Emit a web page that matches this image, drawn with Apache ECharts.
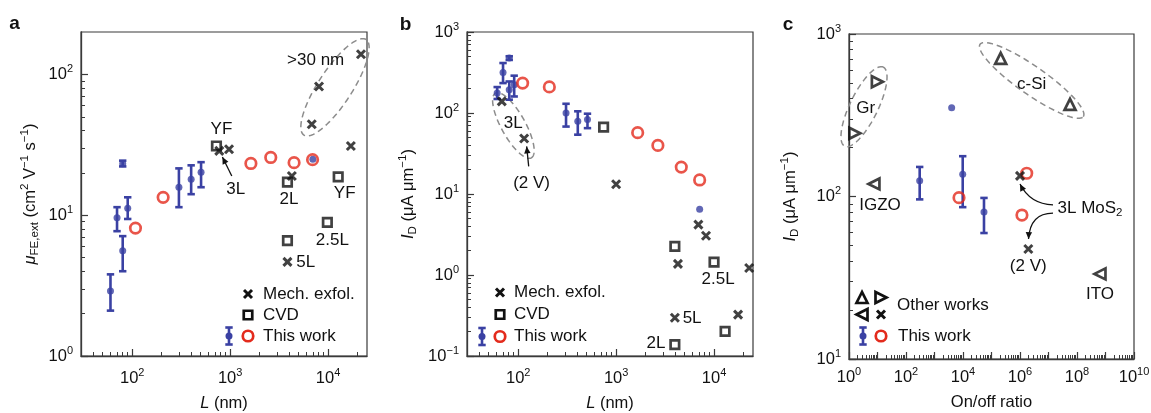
<!DOCTYPE html>
<html>
<head>
<meta charset="utf-8">
<title>MoS2 transistor benchmarks</title>
<script src="https://cdn.jsdelivr.net/npm/echarts@6.0.0/dist/echarts.min.js"></script>
<style>
  html, body { margin: 0; padding: 0; background: #fff; }
  #chart { width: 1151px; height: 413px; }
</style>
</head>
<body>
<div id="chart"></div>
<script>
const FONT = "'Liberation Sans', Arial, Helvetica, sans-serif";
const INK = '#111111';
const AXIS_COLOR = '#3a3a3a';
const BLUE = '#3a41a3';
const RED = '#e32b1d';
const DASH_GREY = '#8c8c8c';

// ---------- panel a: extrinsic field-effect mobility vs channel length ----------
const aThisWorkL  = [60, 70, 80, 80, 90, 300, 400, 505, 7000];
const aThisWorkMu = [2.9, 9.6, 5.6, 23.2, 11.2, 15.8, 18.0, 20.2, 25.0];
const aThisWorkLo = [2.1, 7.7, 4.0, 22.2, 9.4, 11.4, 14.1, 15.8, null];
const aThisWorkHi = [3.8, 11.4, 7.1, 24.4, 13.4, 21.5, 22.6, 23.8, null];
const aCircleL    = [108, 207, 1630, 2600, 4500, 6950];
const aCircleMu   = [8.1, 13.4, 23.3, 25.7, 23.6, 24.8];
const aExfolL     = [775, 975, 4270, 6820, 8090, 21700, 17100, 3850];
const aExfolMu    = [28.6, 29.4, 19.0, 44.2, 82, 139, 31.0, 4.66];
const aCvdL       = [725, 3850, 12700, 3850, 9840];
const aCvdMu      = [31.0, 17.2, 18.7, 6.6, 8.9];

// ---------- panel b: on-current vs channel length ----------
const bThisWorkL  = [61, 70, 81, 81, 91, 308, 406, 510, 7130];
const bThisWorkI  = [177, 317, 477, 194, 223, 100, 79, 83, 6.5];
const bThisWorkLo = [149, 234, 452, 146, 160, 68, 54, 65, null];
const bThisWorkHi = [209, 414, 502, 245, 289, 130, 105, 98, null];
const bCircleL    = [111, 208, 1660, 2670, 4630, 7130];
const bCircleI    = [234, 210, 57.2, 39.8, 21.5, 14.9];
const bExfolL     = [68, 115, 1000, 6920, 8280, 4280, 22850, 3980, 17600];
const bExfolI     = [139, 48.5, 13.2, 4.18, 3.05, 1.37, 1.22, 0.297, 0.324];
const bCvdL       = [745, 3980, 10000, 12970, 3980];
const bCvdI       = [67.1, 2.25, 1.44, 0.201, 0.138];

// ---------- panel c: on-current vs on/off ratio ----------
const cGrapheneRatio = [9.9, 1.6];
const cGrapheneI     = [508, 245];
const cSiliconRatio  = [2.1e5, 5.7e7];
const cSiliconI      = [708, 369];
const cOxideRatio    = [7.5, 6.4e8];      // IGZO, ITO
const cOxideI        = [119.5, 33.4];
const cMoS2Ratio     = [1.0e6, 1.96e6];
const cMoS2I         = [134, 47.5];
const cThisWorkRatio = [302, 9770, 54500, 4000];
const cThisWorkI     = [125, 137, 80.4, 352];
const cThisWorkLo    = [96, 86, 59.6, null];
const cThisWorkHi    = [152, 177, 98, null];
const cCircleRatio   = [7240, 1.72e6, 1.17e6];
const cCircleI       = [98.4, 139, 76.9];

// ---------- axis extents and tick labels ----------
const lengthRange    = [30, 25000];
const lengthTicks    = [100, 1000, 10000];
const mobilityRange  = [1, 200];
const mobilityTicks  = [1, 10, 100];
const currentRangeB  = [0.1, 1000];
const currentTicksB  = [0.1, 1, 10, 100, 1000];
const ratioRange     = [1, 1e10];
const ratioTicks     = [1, 1e1, 1e2, 1e3, 1e4, 1e5, 1e6, 1e7, 1e8, 1e9, 1e10];
const ratioLabels    = [1, 1e2, 1e4, 1e6, 1e8, 1e10];
const currentRangeC  = [10, 1000];
const currentTicksC  = [10, 100, 1000];

// log-spaced minor ticks (2..9 of every decade) strictly inside a range
function minorValues(range) {
  const out = [];
  const d0 = Math.floor(Math.log10(range[0])), d1 = Math.ceil(Math.log10(range[1]));
  for (let d = d0; d <= d1; d++) {
    for (let m = 2; m <= 9; m++) {
      const v = +(m * Math.pow(10, d)).toPrecision(6);
      if (v > range[0] && v < range[1]) out.push(v);
    }
  }
  return out;
}

const TICK_RICH = {
  b: { fontFamily: FONT, fontSize: 16.5, color: INK, lineHeight: 22 },
  s: { fontFamily: FONT, fontSize: 11, color: INK, lineHeight: 12, verticalAlign: 'top' }
};
function powLabel(v) {
  const e = Math.round(Math.log10(v));
  return '{b|10}{s|' + (e < 0 ? '\u2212' + (-e) : e) + '}';
}
const NAME_STYLE = {
  fontFamily: FONT, fontSize: 16.5, color: INK, lineHeight: 22,
  rich: {
    i:   { fontFamily: FONT, fontSize: 16.5, color: INK, lineHeight: 22, fontStyle: 'italic' },
    sub: { fontFamily: FONT, fontSize: 11.5, color: INK, lineHeight: 12, verticalAlign: 'bottom' },
    sup: { fontFamily: FONT, fontSize: 11.5, color: INK, lineHeight: 12, verticalAlign: 'top' }
  }
};

// a labelled log axis plus an overlay axis that carries only the short minor ticks
function axisPair(dim, gridIndex, range, majors, labels, name, nameGap, labelMargin) {
  const common = {
    type: 'log', logBase: 10, gridIndex, min: range[0], max: range[1],
    position: dim === 'x' ? 'bottom' : 'left',
    splitLine: { show: false }, minorTick: { show: false }, minorSplitLine: { show: false },
    silent: true, axisPointer: { show: false }
  };
  const major = Object.assign({}, common, {
    axisLine: { show: true, onZero: false, lineStyle: { color: AXIS_COLOR, width: 1.3 } },
    axisTick: { show: true, inside: true, length: 7, customValues: majors, lineStyle: { color: AXIS_COLOR, width: 1.2 } },
    axisLabel: { show: true, customValues: labels, formatter: powLabel, margin: labelMargin, rich: TICK_RICH },
    name, nameLocation: 'middle', nameGap, nameRotate: dim === 'y' ? 90 : 0, nameTextStyle: NAME_STYLE
  });
  const minor = Object.assign({}, common, {
    axisLine: { show: false },
    axisTick: { show: true, inside: true, length: 4, customValues: minorValues(range), lineStyle: { color: AXIS_COLOR, width: 1 } },
    axisLabel: { show: false }
  });
  return [major, minor];
}

const PANEL_AXES = { a: 0, b: 2, c: 4 };
const pairs = (xs, ys) => xs.map((x, i) => [x, ys[i]]);

const CROSS  = { symbol: 'path://M0,0L10,10M10,0L0,10', size: 8, style: { color: 'none', borderColor: INK, borderWidth: 3 } };
const SQUARE = { symbol: 'rect', size: 8.5, style: { color: 'none', borderColor: INK, borderWidth: 2.7 } };
const RING   = { symbol: 'circle', size: 10.5, style: { color: 'none', borderColor: RED, borderWidth: 2.7 } };
const DOT    = { symbol: 'circle', size: 7, style: { color: BLUE } };
const TRI_UP    = { symbol: 'triangle', size: 11, rotate: 0,   style: { color: 'none', borderColor: INK, borderWidth: 2.7 } };
const TRI_RIGHT = { symbol: 'triangle', size: 11, rotate: -90, style: { color: 'none', borderColor: INK, borderWidth: 2.7 } };
const TRI_LEFT  = { symbol: 'triangle', size: 11, rotate: 90,  style: { color: 'none', borderColor: INK, borderWidth: 2.7 } };

function scatter(name, panel, xs, ys, mark, z) {
  const ax = PANEL_AXES[panel];
  return {
    name, type: 'scatter', xAxisIndex: ax, yAxisIndex: ax, data: pairs(xs, ys),
    symbol: mark.symbol, symbolSize: mark.size, symbolRotate: mark.rotate || 0,
    itemStyle: mark.style, z, silent: true, animation: false
  };
}

// vertical error bars with caps, positioned through the panel's axes
function errorBars(panel, xs, lo, hi) {
  const ax = PANEL_AXES[panel];
  const data = [];
  xs.forEach((x, i) => { if (lo[i] != null) data.push([x, lo[i], hi[i]]); });
  return {
    type: 'custom', xAxisIndex: ax, yAxisIndex: ax, data, z: 3, silent: true, animation: false,
    encode: { x: 0, y: [1, 2] },
    renderItem(params, api) {
      const p0 = api.coord([api.value(0), api.value(1)]);
      const p1 = api.coord([api.value(0), api.value(2)]);
      const w = 3.7, st = { stroke: BLUE, lineWidth: 2.6 };
      return {
        type: 'group', children: [
          { type: 'line', shape: { x1: p0[0], y1: p0[1], x2: p1[0], y2: p1[1] }, style: st },
          { type: 'line', shape: { x1: p0[0] - w, y1: p0[1], x2: p0[0] + w, y2: p0[1] }, style: st },
          { type: 'line', shape: { x1: p1[0] - w, y1: p1[1], x2: p1[0] + w, y2: p1[1] }, style: st }
        ]
      };
    }
  };
}

const grids = [
  { left: 81,  top: 32, width: 286, height: 324 },
  { left: 467, top: 32, width: 286, height: 324 },
  { left: 849, top: 34, width: 285, height: 325 }
].map(g => Object.assign({
  show: true, borderColor: AXIS_COLOR, borderWidth: 1.2, backgroundColor: 'transparent',
  containLabel: false, outerBoundsMode: 'none'
}, g));

const lengthName = '{i|L} (nm)';
const xAxes = [].concat(
  axisPair('x', 0, lengthRange, lengthTicks, lengthTicks, lengthName, 36, 11),
  axisPair('x', 1, lengthRange, lengthTicks, lengthTicks, lengthName, 36, 11),
  axisPair('x', 2, ratioRange, ratioTicks, ratioLabels, 'On/off ratio', 32, 7)
);
const yAxes = [].concat(
  axisPair('y', 0, mobilityRange, mobilityTicks, mobilityTicks,
    '{i|\u03bc}{sub|FE,ext} (cm{sup|2} V{sup|\u22121} s{sup|\u22121})', 40, 8),
  axisPair('y', 1, currentRangeB, currentTicksB, currentTicksB,
    '{i|I}{sub|D} (\u03bcA \u03bcm{sup|\u22121})', 48, 8),
  axisPair('y', 2, currentRangeC, currentTicksC, currentTicksC,
    '{i|I}{sub|D} (\u03bcA \u03bcm{sup|\u22121})', 48, 8)
);

const series = [
  // a
  errorBars('a', aThisWorkL, aThisWorkLo, aThisWorkHi),
  scatter('This work', 'a', aThisWorkL, aThisWorkMu, DOT, 4),
  scatter('This work', 'a', aCircleL, aCircleMu, RING, 5),
  scatter('CVD', 'a', aCvdL, aCvdMu, SQUARE, 5),
  scatter('Mech. exfol.', 'a', aExfolL, aExfolMu, CROSS, 6),
  // b
  errorBars('b', bThisWorkL, bThisWorkLo, bThisWorkHi),
  scatter('This work', 'b', bThisWorkL, bThisWorkI, DOT, 4),
  scatter('This work', 'b', bCircleL, bCircleI, RING, 5),
  scatter('CVD', 'b', bCvdL, bCvdI, SQUARE, 5),
  scatter('Mech. exfol.', 'b', bExfolL, bExfolI, CROSS, 6),
  // c
  errorBars('c', cThisWorkRatio, cThisWorkLo, cThisWorkHi),
  scatter('This work', 'c', cThisWorkRatio, cThisWorkI, DOT, 4),
  scatter('This work', 'c', cCircleRatio, cCircleI, RING, 5),
  scatter('Graphene', 'c', cGrapheneRatio, cGrapheneI, TRI_RIGHT, 5),
  scatter('c-Si', 'c', cSiliconRatio, cSiliconI, TRI_UP, 5),
  scatter('Oxides', 'c', cOxideRatio, cOxideI, TRI_LEFT, 5),
  scatter('3L MoS2', 'c', cMoS2Ratio, cMoS2I, CROSS, 6)
];

const chart = echarts.init(document.getElementById('chart'), null, { renderer: 'canvas' });
chart.setOption({
  backgroundColor: '#ffffff',
  animation: false,
  textStyle: { fontFamily: FONT, color: INK },
  grid: grids,
  xAxis: xAxes,
  yAxis: yAxes,
  series
});

// ---------- annotations, anchored in data coordinates ----------
const toPx = (panel, pt) => chart.convertToPixel({ xAxisIndex: PANEL_AXES[panel], yAxisIndex: PANEL_AXES[panel] }, pt);

const noteTexts = [
  ['a', 'YF', 815, 40.5], ['a', '3L', 1143, 15.3], ['a', '2L', 4000, 13.0], ['a', 'YF', 14800, 14.4],
  ['a', '>30 nm', 7480, 125.7], ['a', '2.5L', 11070, 6.65], ['a', '5L', 5920, 4.59],
  ['b', '3L', 88.9, 75.3], ['b', '(2 V)', 137, 13.7], ['b', '2.5L', 10990, 0.893],
  ['b', '5L', 5970, 0.294], ['b', '2L', 2550, 0.142],
  ['c', 'Gr', 3.85, 349], ['c', 'c-Si', 2.57e6, 490], ['c', 'IGZO', 12.2, 88.7], ['c', 'ITO', 6.41e8, 25.0],
  ['c', '(2 V)', 1.95e6, 37.0], ['c', '3L MoS{sub|2}', 2.86e8, 84.5]
];
// [panel, centre x, centre y, half-major px, half-minor px, tilt in degrees (counter-clockwise)]
const noteEllipses = [
  ['a', 11780, 80.9, 57, 17, 57],
  ['b', 89.3, 70.1, 37, 12, -61],
  ['c', 3.36, 357, 44, 14, 64],
  ['c', 2.57e6, 518, 63, 14, -35]
];
const noteArrows = [
  ['a', [1040, 19.0], [834, 25.9]],
  ['b', [128, 21.9], [122, 38.7]]
];
// [panel, start, control, end] quadratic curves
const noteCurves = [
  ['c', [1.44e7, 88.7], [2.24e6, 90.0], [1.0e6, 119.4]],
  ['c', [1.44e7, 79.1], [2.24e6, 79.1], [1.99e6, 54.7]]
];

const TEXT_FONT = 17;
function textEl(x, y, text, align) {
  return {
    type: 'text', x, y, silent: true, z: 20,
    style: {
      text, fill: INK, fontFamily: FONT, fontSize: TEXT_FONT, align: align || 'center', verticalAlign: 'middle',
      rich: { sub: { fontFamily: FONT, fontSize: 11.5, fill: INK, lineHeight: 12, verticalAlign: 'bottom' } },
      lineHeight: 20
    }
  };
}
function ellipseEl(c, rx, ry, deg) {
  const t = deg * Math.PI / 180, pts = [];
  for (let k = 0; k < 96; k++) {
    const a = 2 * Math.PI * k / 96, ex = rx * Math.cos(a), ey = ry * Math.sin(a);
    pts.push([c[0] + ex * Math.cos(t) - ey * Math.sin(t), c[1] - (ex * Math.sin(t) + ey * Math.cos(t))]);
  }
  return { type: 'polygon', shape: { points: pts }, silent: true, z: 2,
    style: { fill: 'none', stroke: DASH_GREY, lineWidth: 1.5, lineDash: [6, 4] } };
}
function arrowHead(tip, from) {
  const dx = tip[0] - from[0], dy = tip[1] - from[1], len = Math.hypot(dx, dy) || 1;
  const ux = dx / len, uy = dy / len, L = 7, W = 3.2;
  const bx = tip[0] - ux * L, by = tip[1] - uy * L;
  return { type: 'polygon', silent: true, z: 20,
    shape: { points: [tip, [bx - uy * W, by + ux * W], [bx + uy * W, by - ux * W]] }, style: { fill: INK } };
}
const lineStyle = { stroke: INK, lineWidth: 1.3, fill: 'none' };

const graphics = [];
noteTexts.forEach(([p, t, x, y]) => { const q = toPx(p, [x, y]); graphics.push(textEl(q[0], q[1], t)); });
noteEllipses.forEach(([p, x, y, rx, ry, deg]) => graphics.push(ellipseEl(toPx(p, [x, y]), rx, ry, deg)));
noteArrows.forEach(([p, s, e]) => {
  const a = toPx(p, s), b = toPx(p, e);
  graphics.push({ type: 'line', silent: true, z: 20, shape: { x1: a[0], y1: a[1], x2: b[0], y2: b[1] }, style: lineStyle });
  graphics.push(arrowHead(b, a));
});
noteCurves.forEach(([p, s, c, e]) => {
  const a = toPx(p, s), k = toPx(p, c), b = toPx(p, e);
  graphics.push({ type: 'bezierCurve', silent: true, z: 20,
    shape: { x1: a[0], y1: a[1], cpx1: k[0], cpy1: k[1], x2: b[0], y2: b[1] }, style: lineStyle });
  graphics.push(arrowHead(b, k));
});

// ---------- legends and panel letters ----------
function gCross(x, y) {
  const h = 4, st = { stroke: INK, lineWidth: 3 };
  return [
    { type: 'line', shape: { x1: x - h, y1: y - h, x2: x + h, y2: y + h }, style: st, silent: true, z: 20 },
    { type: 'line', shape: { x1: x - h, y1: y + h, x2: x + h, y2: y - h }, style: st, silent: true, z: 20 }
  ];
}
function gSquare(x, y) {
  return [{ type: 'rect', shape: { x: x - 4.25, y: y - 4.25, width: 8.5, height: 8.5 }, silent: true, z: 20,
    style: { fill: 'none', stroke: INK, lineWidth: 2.7 } }];
}
function gRing(x, y) {
  return [{ type: 'circle', shape: { cx: x, cy: y, r: 5.25 }, silent: true, z: 20, style: { fill: 'none', stroke: RED, lineWidth: 2.7 } }];
}
function gBar(x, y) {
  const st = { stroke: BLUE, lineWidth: 2.6 }, h = 8.5, w = 3.7;
  return [
    { type: 'line', shape: { x1: x, y1: y - h, x2: x, y2: y + h }, style: st, silent: true, z: 20 },
    { type: 'line', shape: { x1: x - w, y1: y - h, x2: x + w, y2: y - h }, style: st, silent: true, z: 20 },
    { type: 'line', shape: { x1: x - w, y1: y + h, x2: x + w, y2: y + h }, style: st, silent: true, z: 20 },
    { type: 'circle', shape: { cx: x, cy: y, r: 3.5 }, style: { fill: BLUE }, silent: true, z: 21 }
  ];
}
function gTri(x, y, dir) {
  const s = 5.5;
  const pts = dir === 'up' ? [[x, y - s], [x - s, y + s], [x + s, y + s]]
    : dir === 'right' ? [[x + s, y], [x - s, y - s], [x - s, y + s]]
    : [[x - s, y], [x + s, y - s], [x + s, y + s]];
  return [{ type: 'polygon', shape: { points: pts }, silent: true, z: 20, style: { fill: 'none', stroke: INK, lineWidth: 2.7 } }];
}

[[248, 263, 294, 315, 336, 229], [500, 514, 292.5, 314.5, 336.5, 482]].forEach(([sx, tx, y1, y2, y3, bx]) => {
  graphics.push(...gCross(sx, y1), textEl(tx, y1, 'Mech. exfol.', 'left'));
  graphics.push(...gSquare(sx, y2), textEl(tx, y2, 'CVD', 'left'));
  graphics.push(...gBar(bx, y3), ...gRing(sx, y3), textEl(tx, y3, 'This work', 'left'));
});
graphics.push(...gTri(862, 297.5, 'up'), ...gTri(881, 297.5, 'right'), ...gTri(862, 314.5, 'left'), ...gCross(881, 314.5));
graphics.push(textEl(897, 305, 'Other works', 'left'));
graphics.push(...gBar(863, 336), ...gRing(881, 336), textEl(898, 336, 'This work', 'left'));

[['a', 14.5, 24], ['b', 405.5, 25], ['c', 788, 25]].forEach(([t, x, y]) => {
  graphics.push({ type: 'text', x, y, silent: true, z: 20,
    style: { text: t, fill: INK, fontFamily: FONT, fontSize: 19, fontWeight: 'bold', align: 'center', verticalAlign: 'middle' } });
});

chart.setOption({ graphic: graphics });
</script>
</body>
</html>
